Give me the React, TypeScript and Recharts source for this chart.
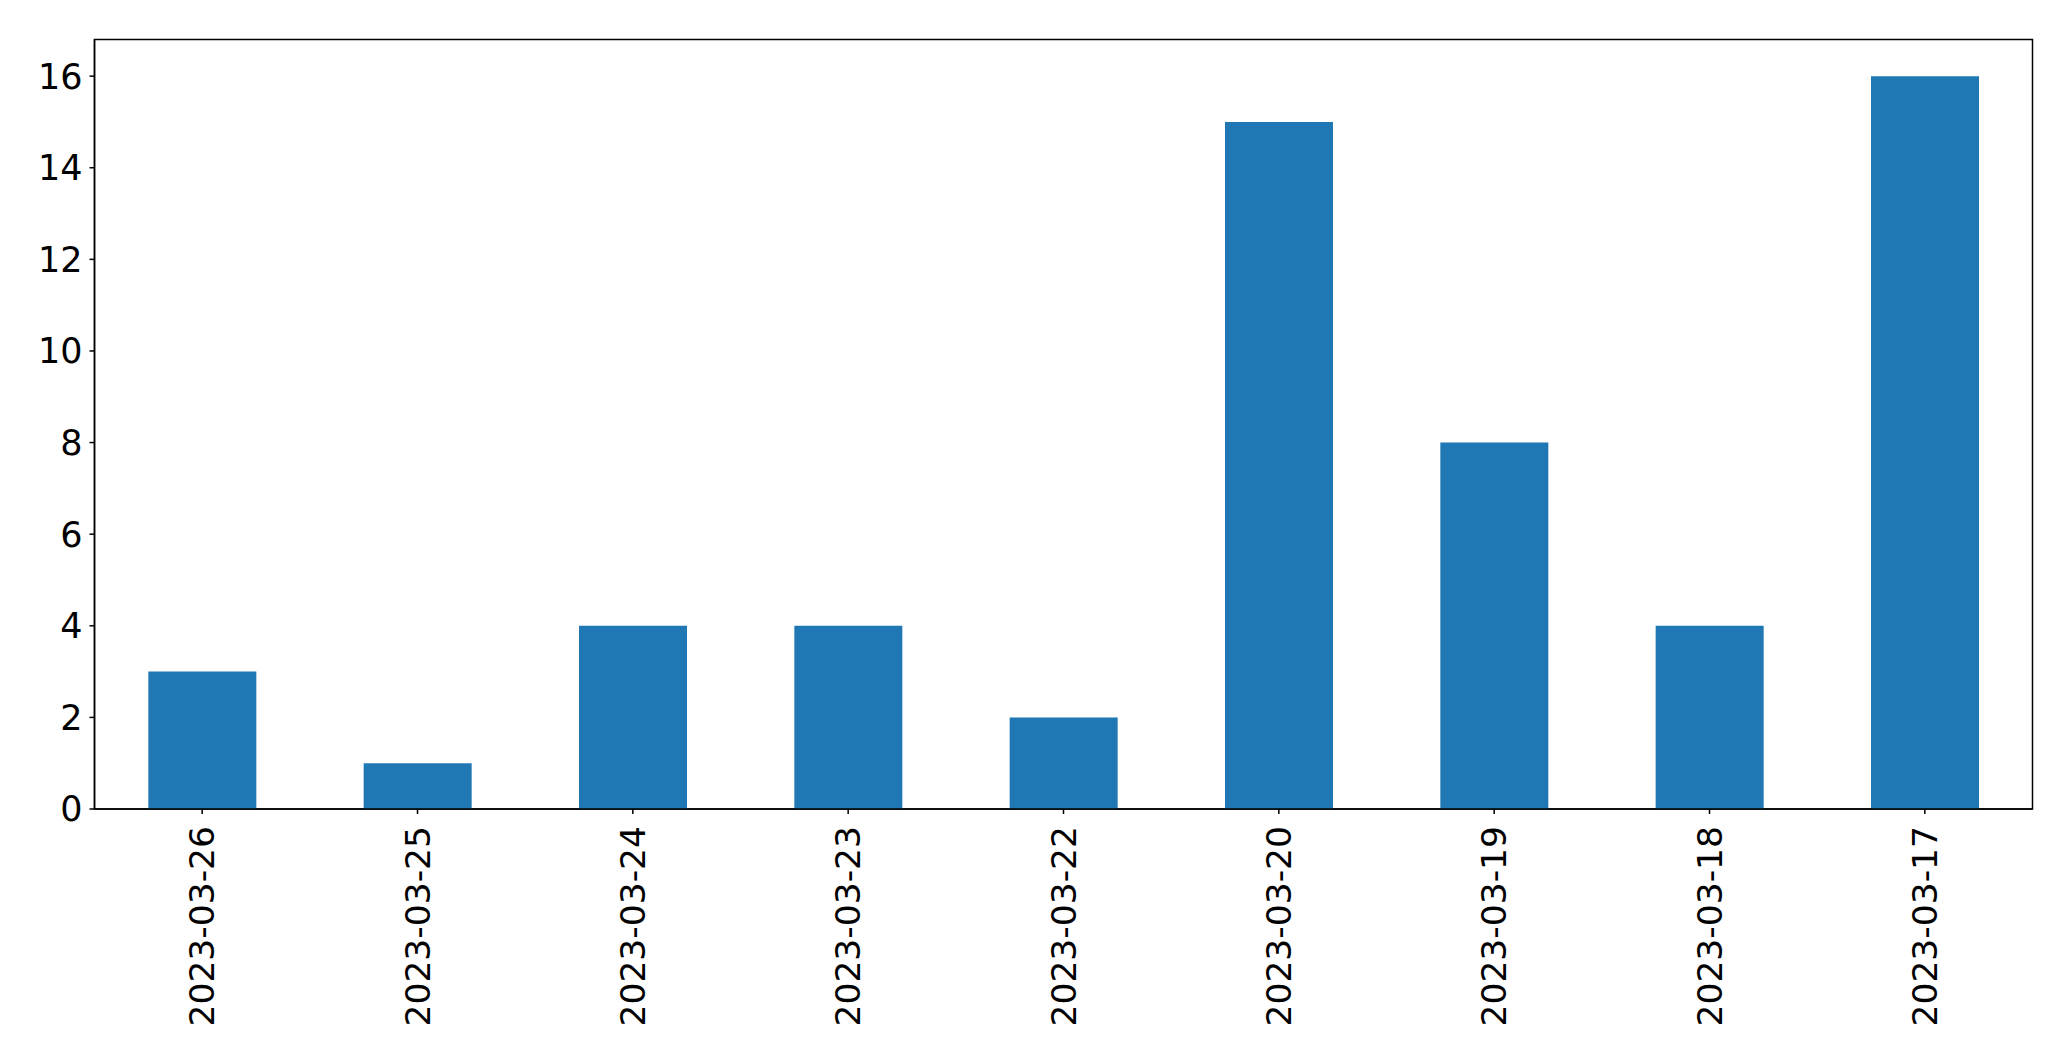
import { BarChart, Bar, XAxis, YAxis, ReferenceArea } from "recharts";

const dates = [
  "2023-03-26",
  "2023-03-25",
  "2023-03-24",
  "2023-03-23",
  "2023-03-22",
  "2023-03-20",
  "2023-03-19",
  "2023-03-18",
  "2023-03-17",
];
const counts = [3, 1, 4, 4, 2, 15, 8, 4, 16];
const yTicks = [0, 2, 4, 6, 8, 10, 12, 14, 16];

const FONT = "'DejaVu Sans', sans-serif";

function DateTick({ x, y, payload }: any) {
  return (
    <text
      x={x}
      y={y}
      transform={`rotate(-90, ${x}, ${y})`}
      textAnchor="end"
      dominantBaseline="central"
      fontFamily={FONT}
      fontSize={34.5}
      fill="#000"
    >
      {payload.value}
    </text>
  );
}

export default function App() {
  const data = dates.map((d, i) => ({ date: d, count: counts[i] }));

  return (
    <div style={{ position: "absolute", left: 0, top: 0, width: 2071, height: 1061, background: "#fff" }}>
      <BarChart
        width={2071}
        height={1061}
        data={data}
        margin={{ top: 39.5, right: 38.5, bottom: 0, left: 0 }}
        barCategoryGap="25%"
      >
        <XAxis
          dataKey="date"
          height={252}
          interval={0}
          stroke="#000"
          strokeWidth={1.5}
          tickSize={5}
          tickMargin={12}
          tick={<DateTick />}
        />
        <YAxis
          width={94.5}
          domain={[0, 16.8]}
          ticks={yTicks}
          interval={0}
          stroke="#000"
          strokeWidth={1.5}
          tickSize={5}
          tickMargin={7}
          tick={{ fill: "#000", fontSize: 35, fontFamily: FONT }}
        />
        <ReferenceArea y1={0} y2={16.8} fill="none" fillOpacity={0} stroke="#000" strokeWidth={1.5} ifOverflow="visible" />
        <Bar dataKey="count" fill="#1f77b4" isAnimationActive={false} />
      </BarChart>
    </div>
  );
}
